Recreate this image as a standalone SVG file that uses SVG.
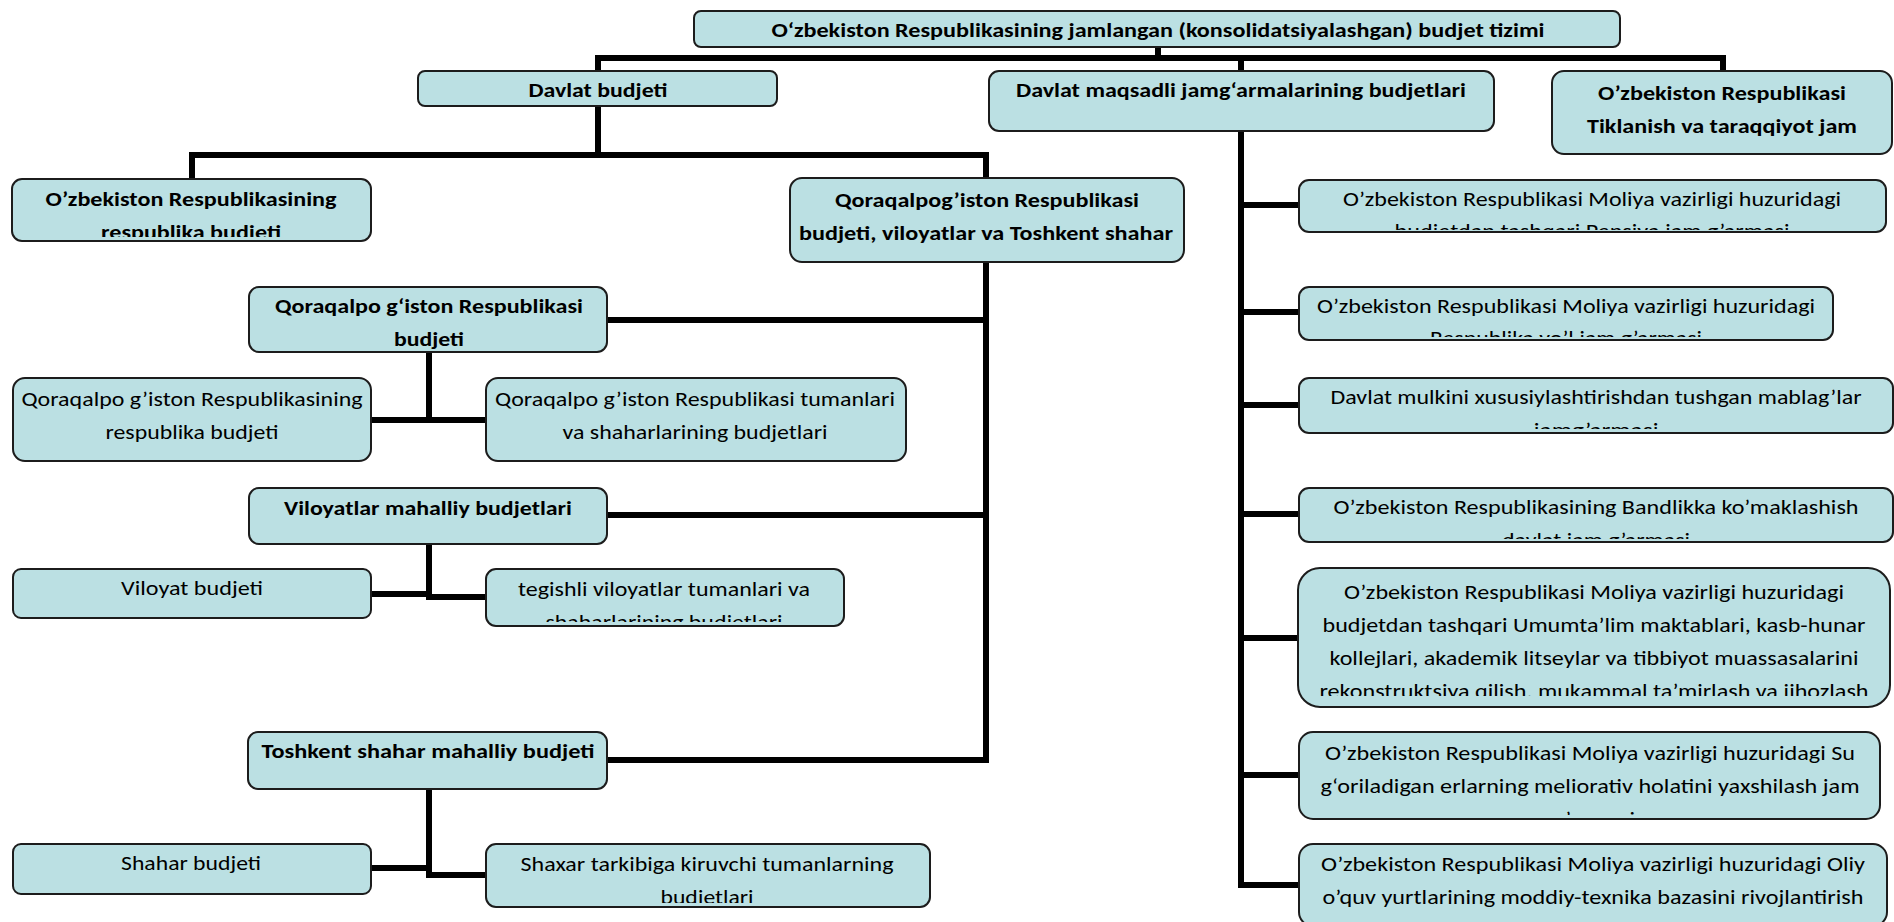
<svg xmlns="http://www.w3.org/2000/svg" width="1894" height="922" viewBox="0 0 1894 922">
<style>
.box{fill:#BBE0E3;stroke:#1c1c1c;stroke-width:2}
.t{font-family:Carlito,'Liberation Sans',Arial,sans-serif;font-size:20px;fill:#000;text-anchor:middle}
.b{font-weight:bold}
.c{stroke:#000;stroke-width:6;fill:none;stroke-linecap:square}
</style>
<defs>
<clipPath id="k4"><rect x="12" y="179" width="359" height="58"/></clipPath>
<clipPath id="k6"><rect x="249" y="287" width="358" height="63"/></clipPath>
<clipPath id="k11"><rect x="486" y="569" width="358" height="53"/></clipPath>
<clipPath id="k14"><rect x="486" y="844" width="444" height="59"/></clipPath>
<clipPath id="kr1"><rect x="1299" y="180" width="587" height="50"/></clipPath>
<clipPath id="kr2"><rect x="1299" y="287" width="534" height="50"/></clipPath>
<clipPath id="kr3"><rect x="1299" y="378" width="594" height="51"/></clipPath>
<clipPath id="kr4"><rect x="1299" y="488" width="594" height="51"/></clipPath>
<clipPath id="kr5"><rect x="1298" y="568" width="592" height="128"/></clipPath>
<clipPath id="kr6"><rect x="1299" y="732" width="581" height="83"/></clipPath>
</defs>
<g id="connectors">
<path class="c" d="M1158,47 V58 M598,71 V58 H1723 V71 M1241,58 V71"/>
<path class="c" d="M598,106 V155 M192,178 V155 H986 V760 H607 M986,320 H607 M986,515 H607"/>
<path class="c" d="M429,352 V420 M371,420 H486"/>
<path class="c" d="M429,544 V597 M371,594 H429 M429,597 H486"/>
<path class="c" d="M429,789 V875 M371,868 H429 M429,875 H486"/>
<path class="c" d="M1241,131 V885 M1241,205 H1299 M1241,312 H1299 M1241,405 H1299 M1241,514 H1299 M1241,638 H1299 M1241,775 H1299 M1241,885 H1299"/>
</g>
<g id="n0"><rect class="box" x="694" y="11" width="926" height="36" rx="7"/>
<text class="t b" x="1158" y="37" textLength="773" lengthAdjust="spacingAndGlyphs">O‘zbekiston Respublikasining jamlangan (konsolidatsiyalashgan) budjet tizimi</text></g>
<g id="n1"><rect class="box" x="418" y="71" width="359" height="35" rx="7"/>
<text class="t b" x="598" y="97" textLength="139" lengthAdjust="spacingAndGlyphs">Davlat budjeti</text></g>
<g id="n2"><rect class="box" x="989" y="71" width="505" height="60" rx="10"/>
<text class="t b" x="1241" y="97" textLength="450" lengthAdjust="spacingAndGlyphs">Davlat maqsadli jamg‘armalarining budjetlari</text></g>
<g id="n3"><rect class="box" x="1552" y="71" width="340" height="83" rx="12"/>
<text class="t b" x="1722" y="100" textLength="248" lengthAdjust="spacingAndGlyphs">O’zbekiston Respublikasi</text>
<text class="t b" x="1722" y="133" textLength="270" lengthAdjust="spacingAndGlyphs">Tiklanish va taraqqiyot jam</text></g>
<g id="n4"><rect class="box" x="12" y="179" width="359" height="62" rx="10"/>
<g clip-path="url(#k4)"><text class="t b" x="191" y="206" textLength="291" lengthAdjust="spacingAndGlyphs">O’zbekiston Respublikasining</text>
<text class="t b" x="191" y="239" textLength="180" lengthAdjust="spacingAndGlyphs">respublika budjeti</text></g></g>
<g id="n5"><rect class="box" x="790" y="178" width="394" height="84" rx="12"/>
<text class="t b" x="987" y="207" textLength="304" lengthAdjust="spacingAndGlyphs">Qoraqalpog’iston Respublikasi</text>
<text class="t b" x="986" y="240" textLength="374" lengthAdjust="spacingAndGlyphs">budjeti, viloyatlar va Toshkent shahar</text></g>
<g id="n6"><rect class="box" x="249" y="287" width="358" height="65" rx="10"/>
<g clip-path="url(#k6)"><text class="t b" x="429" y="313" textLength="308" lengthAdjust="spacingAndGlyphs">Qoraqalpo g‘iston Respublikasi</text>
<text class="t b" x="429" y="346" textLength="70" lengthAdjust="spacingAndGlyphs">budjeti</text></g></g>
<g id="n7"><rect class="box" x="13" y="378" width="358" height="83" rx="12"/>
<text class="t" x="192" y="406" textLength="341" lengthAdjust="spacingAndGlyphs">Qoraqalpo g’iston Respublikasining</text>
<text class="t" x="192" y="439" textLength="173" lengthAdjust="spacingAndGlyphs">respublika budjeti</text></g>
<g id="n8"><rect class="box" x="486" y="378" width="420" height="83" rx="12"/>
<text class="t" x="695" y="406" textLength="400" lengthAdjust="spacingAndGlyphs">Qoraqalpo g’iston Respublikasi tumanlari</text>
<text class="t" x="695" y="439" textLength="265" lengthAdjust="spacingAndGlyphs">va shaharlarining budjetlari</text></g>
<g id="n9"><rect class="box" x="249" y="488" width="358" height="56" rx="10"/>
<text class="t b" x="428" y="515" textLength="288" lengthAdjust="spacingAndGlyphs">Viloyatlar mahalliy budjetlari</text></g>
<g id="n10"><rect class="box" x="13" y="569" width="358" height="49" rx="8"/>
<text class="t" x="192" y="595" textLength="142" lengthAdjust="spacingAndGlyphs">Viloyat budjeti</text></g>
<g id="n11"><rect class="box" x="486" y="569" width="358" height="57" rx="10"/>
<g clip-path="url(#k11)"><text class="t" x="664" y="596" textLength="292" lengthAdjust="spacingAndGlyphs">tegishli viloyatlar tumanlari va</text>
<text class="t" x="664" y="629" textLength="237" lengthAdjust="spacingAndGlyphs">shaharlarining budjetlari</text></g></g>
<g id="n12"><rect class="box" x="248" y="732" width="359" height="57" rx="10"/>
<text class="t b" x="428" y="758" textLength="333" lengthAdjust="spacingAndGlyphs">Toshkent shahar mahalliy budjeti</text></g>
<g id="n13"><rect class="box" x="13" y="844" width="358" height="50" rx="8"/>
<text class="t" x="191" y="870" textLength="140" lengthAdjust="spacingAndGlyphs">Shahar budjeti</text></g>
<g id="n14"><rect class="box" x="486" y="844" width="444" height="63" rx="10"/>
<g clip-path="url(#k14)"><text class="t" x="707" y="871" textLength="373" lengthAdjust="spacingAndGlyphs">Shaxar tarkibiga kiruvchi tumanlarning</text>
<text class="t" x="707" y="904" textLength="93" lengthAdjust="spacingAndGlyphs">budjetlari</text></g></g>
<g id="r1"><rect class="box" x="1299" y="180" width="587" height="52" rx="10"/>
<g clip-path="url(#kr1)"><text class="t" x="1592" y="206" textLength="498" lengthAdjust="spacingAndGlyphs">O’zbekiston Respublikasi Moliya vazirligi huzuridagi</text>
<text class="t" x="1592" y="238" textLength="395" lengthAdjust="spacingAndGlyphs">budjetdan tashqari Pensiya jam g’armasi</text></g></g>
<g id="r2"><rect class="box" x="1299" y="287" width="534" height="53" rx="10"/>
<g clip-path="url(#kr2)"><text class="t" x="1566" y="313" textLength="498" lengthAdjust="spacingAndGlyphs">O’zbekiston Respublikasi Moliya vazirligi huzuridagi</text>
<text class="t" x="1566" y="345" textLength="272" lengthAdjust="spacingAndGlyphs">Respublika yo’l jam g’armasi</text></g></g>
<g id="r3"><rect class="box" x="1299" y="378" width="594" height="55" rx="10"/>
<g clip-path="url(#kr3)"><text class="t" x="1596" y="404" textLength="531" lengthAdjust="spacingAndGlyphs">Davlat mulkini xususiylashtirishdan tushgan mablag’lar</text>
<text class="t" x="1596" y="437" textLength="125" lengthAdjust="spacingAndGlyphs">jamg’armasi</text></g></g>
<g id="r4"><rect class="box" x="1299" y="488" width="594" height="54" rx="10"/>
<g clip-path="url(#kr4)"><text class="t" x="1596" y="514" textLength="525" lengthAdjust="spacingAndGlyphs">O’zbekiston Respublikasining Bandlikka ko’maklashish</text>
<text class="t" x="1596" y="547" textLength="188" lengthAdjust="spacingAndGlyphs">davlat jam g’armasi</text></g></g>
<g id="r5"><rect class="box" x="1298" y="568" width="592" height="139" rx="22"/>
<g clip-path="url(#kr5)"><text class="t" x="1594" y="599" textLength="500" lengthAdjust="spacingAndGlyphs">O’zbekiston Respublikasi Moliya vazirligi huzuridagi</text>
<text class="t" x="1594" y="632" textLength="543" lengthAdjust="spacingAndGlyphs">budjetdan tashqari Umumta’lim maktablari, kasb-hunar</text>
<text class="t" x="1594" y="665" textLength="529" lengthAdjust="spacingAndGlyphs">kollejlari, akademik litseylar va tibbiyot muassasalarini</text>
<text class="t" x="1594" y="698" textLength="549" lengthAdjust="spacingAndGlyphs">rekonstruktsiya qilish, mukammal ta’mirlash va jihozlash</text></g></g>
<g id="r6"><rect class="box" x="1299" y="732" width="581" height="87" rx="14"/>
<g clip-path="url(#kr6)"><text class="t" x="1590" y="760" textLength="530" lengthAdjust="spacingAndGlyphs">O’zbekiston Respublikasi Moliya vazirligi huzuridagi Su</text>
<text class="t" x="1590" y="793" textLength="539" lengthAdjust="spacingAndGlyphs">g‘oriladigan erlarning meliorativ holatini yaxshilash jam</text>
<text class="t" x="1594" y="826" textLength="82" lengthAdjust="spacingAndGlyphs">g’armasi</text></g></g>
<g id="r7"><rect class="box" x="1299" y="844" width="588" height="82" rx="14"/>
<text class="t" x="1593" y="871" textLength="544" lengthAdjust="spacingAndGlyphs">O’zbekiston Respublikasi Moliya vazirligi huzuridagi Oliy</text>
<text class="t" x="1593" y="904" textLength="541" lengthAdjust="spacingAndGlyphs">o’quv yurtlarining moddiy-texnika bazasini rivojlantirish</text></g>
</svg>
